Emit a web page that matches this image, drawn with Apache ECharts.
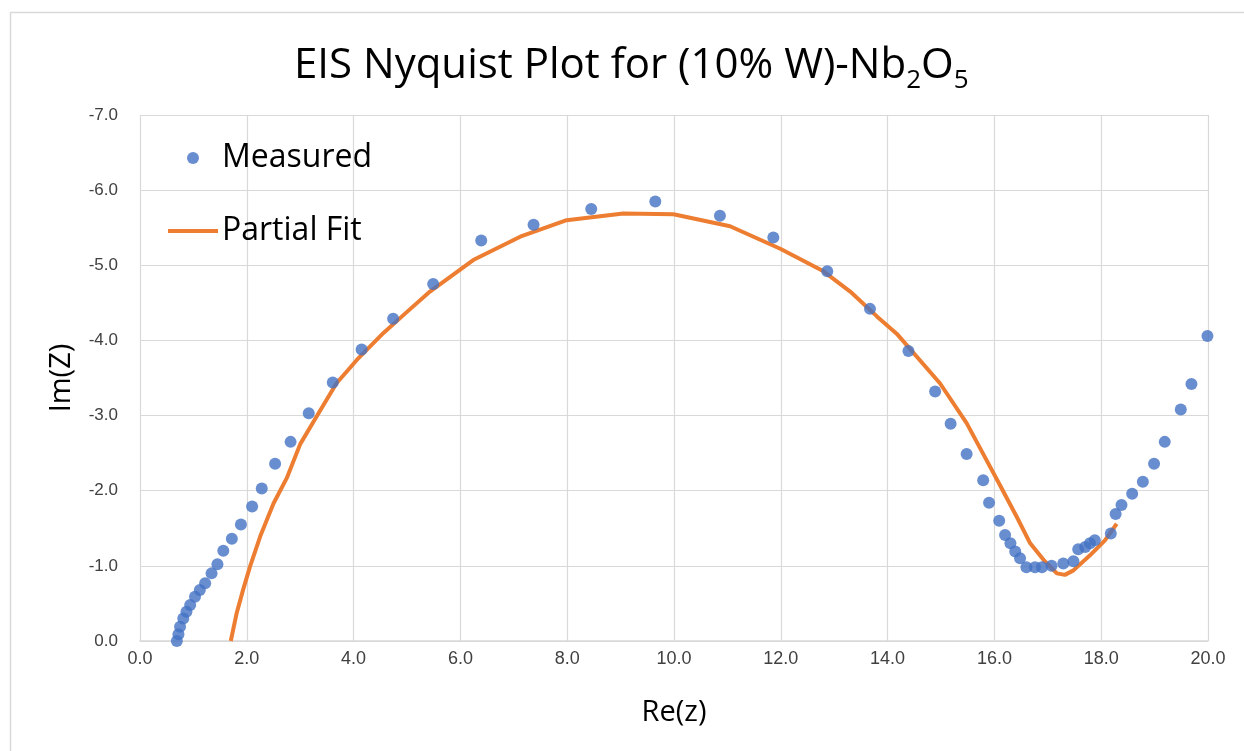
<!DOCTYPE html>
<html>
<head>
<meta charset="utf-8">
<script src="https://cdn.jsdelivr.net/npm/echarts@6/dist/echarts.min.js"></script>
<style>html,body{margin:0;padding:0;background:#fff}#c{width:1244px;height:751px}</style>
</head>
<body>
<div id="c"></div>
<script>
const xTicks = [0, 2, 4, 6, 8, 10, 12, 14, 16, 18, 20];
const yTicks = [0, -1, -2, -3, -4, -5, -6, -7];

const measuredRe = [0.69,0.72,0.75,0.81,0.87,0.94,1.03,1.12,1.22,1.34,1.45,1.56,1.72,1.89,2.10,2.28,2.53,2.82,3.16,3.61,4.15,4.74,5.49,6.39,7.37,8.45,9.65,10.86,11.86,12.87,13.67,14.39,14.89,15.18,15.48,15.79,15.90,16.09,16.20,16.30,16.39,16.48,16.60,16.76,16.89,17.07,17.29,17.48,17.57,17.70,17.79,17.88,18.18,18.27,18.38,18.58,18.78,18.99,19.19,19.49,19.69,19.99];
const measuredIm = [0.00,-0.09,-0.19,-0.30,-0.39,-0.48,-0.59,-0.68,-0.77,-0.90,-1.02,-1.20,-1.36,-1.55,-1.79,-2.03,-2.36,-2.65,-3.03,-3.44,-3.88,-4.29,-4.75,-5.33,-5.54,-5.75,-5.85,-5.66,-5.37,-4.92,-4.42,-3.86,-3.32,-2.89,-2.49,-2.14,-1.84,-1.60,-1.41,-1.30,-1.19,-1.10,-0.98,-0.98,-0.98,-1.00,-1.03,-1.06,-1.22,-1.25,-1.30,-1.34,-1.43,-1.69,-1.81,-1.96,-2.12,-2.36,-2.65,-3.08,-3.42,-4.06];

const fitRe = [1.70,1.81,1.93,2.06,2.25,2.50,2.75,3.00,3.31,3.68,4.06,4.56,5.00,5.43,6.24,7.12,7.99,9.05,9.99,11.05,11.99,12.80,13.30,13.80,14.17,14.98,15.48,15.85,16.10,16.42,16.67,16.92,17.17,17.32,17.48,17.79,18.07,18.29];
const fitIm = [0.00,-0.37,-0.68,-0.99,-1.39,-1.83,-2.17,-2.62,-2.99,-3.43,-3.74,-4.10,-4.38,-4.65,-5.07,-5.38,-5.60,-5.69,-5.68,-5.52,-5.22,-4.92,-4.65,-4.32,-4.09,-3.43,-2.90,-2.41,-2.08,-1.65,-1.30,-1.08,-0.90,-0.88,-0.94,-1.14,-1.34,-1.56];

const measured = measuredRe.map((x, i) => [x, measuredIm[i]]);
const fit = fitRe.map((x, i) => [x, fitIm[i]]);

const chart = echarts.init(document.getElementById('c'), null, {renderer: 'canvas'});
const sans = '"Open Sans", Lato, sans-serif';
const tickFont = '"Liberation Sans", Arial, sans-serif';
chart.setOption({
  animation: false,
  backgroundColor: '#ffffff',
  graphic: [{
    type: 'rect', left: 8, top: 10, silent: true,
    shape: {width: 1300, height: 800},
    style: {fill: 'none', stroke: '#d9d9d9', lineWidth: 1.5}
  }],
  title: {
    left: 289,
    top: 40,
    text: '{a|EIS Nyquist Plot for (10% W)-Nb}{s|2}{a|O}{s|5}',
    textStyle: {
      fontWeight: 'normal',
      rich: {
        a: {fontFamily: sans, fontSize: 42, fontWeight: 'normal', color: '#000', lineHeight: 46, verticalAlign: 'top'},
        s: {fontFamily: sans, fontSize: 26, fontWeight: 'normal', color: '#000', lineHeight: 24, padding: [23, 0, 0, 0], verticalAlign: 'top'}
      }
    }
  },
  legend: {
    orient: 'vertical',
    left: 163,
    top: 137,
    itemWidth: 50,
    itemHeight: 12,
    itemGap: 41,
    textStyle: {fontFamily: sans, fontSize: 32, color: '#000', padding: [0, 0, 0, -1]},
    data: [
      {name: 'Measured', icon: 'circle'},
      {name: 'Partial Fit', icon: 'path://M0,0H50V4H0Z'}
    ]
  },
  grid: {left: 140, right: 36, top: 115, bottom: 110, containLabel: false},
  xAxis: {
    type: 'value',
    min: xTicks[0], max: xTicks[xTicks.length - 1], interval: 2,
    name: 'Re(z)', nameLocation: 'middle', nameGap: 57,
    nameTextStyle: {fontFamily: sans, fontSize: 29, color: '#000'},
    axisLine: {show: true, lineStyle: {color: '#d9d9d9', width: 1.5}},
    axisTick: {show: false},
    axisLabel: {fontFamily: tickFont, fontSize: 18, color: '#404040', margin: 9,
      formatter: v => v.toFixed(1)},
    splitLine: {show: true, lineStyle: {color: '#d9d9d9', width: 1.2}}
  },
  yAxis: {
    type: 'value',
    inverse: true,
    min: yTicks[yTicks.length - 1], max: yTicks[0], interval: 1,
    name: 'Im(Z)', nameLocation: 'middle', nameGap: 64, nameRotate: 90,
    nameTextStyle: {fontFamily: sans, fontSize: 29, color: '#000'},
    axisLine: {show: false},
    axisTick: {show: false},
    axisLabel: {fontFamily: tickFont, fontSize: 17, color: '#404040', margin: 22,
      formatter: v => v.toFixed(1)},
    splitLine: {show: true, lineStyle: {color: '#d9d9d9', width: 1.2}}
  },
  series: [
    {
      name: 'Measured', type: 'scatter', data: measured,
      symbol: 'circle', symbolSize: 12, z: 3,
      itemStyle: {color: '#4472C4'}
    },
    {
      name: 'Partial Fit', type: 'line', data: fit,
      symbol: 'none', showSymbol: false, smooth: false, z: 2,
      lineStyle: {color: '#ED7D31', width: 4},
      itemStyle: {color: '#ED7D31'}
    }
  ]
});
</script>
</body>
</html>
